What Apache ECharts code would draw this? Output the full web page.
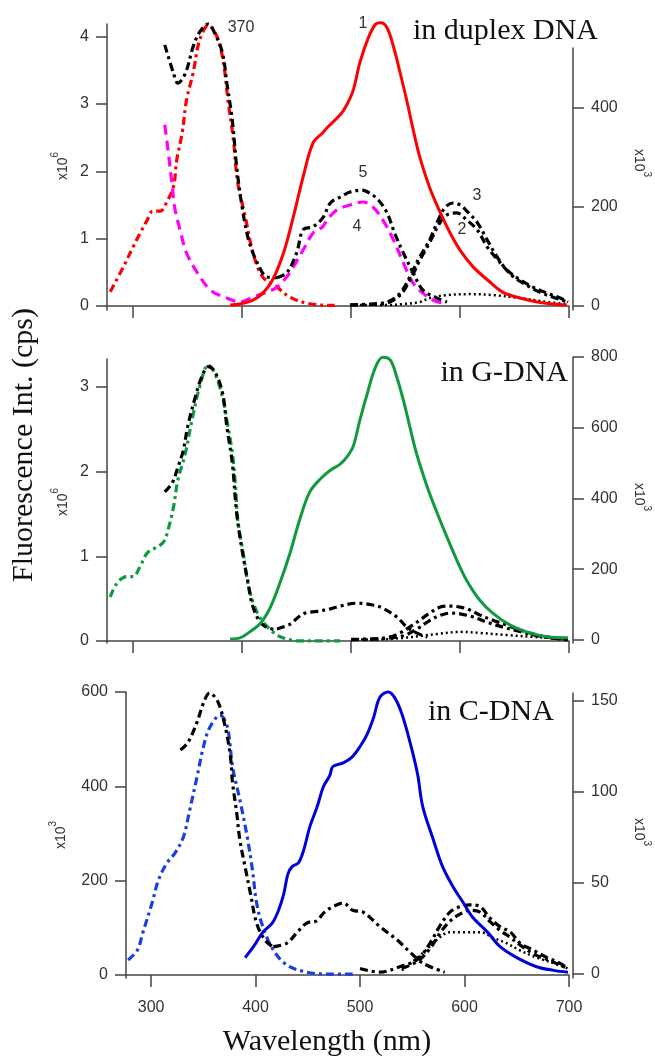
<!DOCTYPE html>
<html>
<head>
<meta charset="utf-8">
<title>Fluorescence spectra in DNA</title>
<script src="https://cdn.jsdelivr.net/npm/echarts@6/dist/echarts.min.js"></script>
<style>
  html, body { margin: 0; padding: 0; background: #fff; }
  #chart { width: 655px; height: 1056px; }
</style>
</head>
<body>
<div id="chart"></div>
<script>
// wavelengths in nm; left axes x10^6 (top, middle) / x10^3 (bottom); right axes x10^3

// ---- in duplex DNA ----
const dupRedExWl = [279, 291, 300, 307, 313, 318, 325, 331, 337, 340, 345, 349, 355, 361, 369, 377, 383, 387, 392, 396, 403, 410, 419, 432, 444, 460, 480, 485];
const dupRedEx   = [0.21, 0.58, 0.88, 1.10, 1.28, 1.41, 1.41, 1.55, 1.77, 2.17, 2.57, 3.06, 3.46, 3.95, 4.17, 4.0, 3.6, 3.06, 2.47, 1.83, 1.32, 0.79, 0.43, 0.28, 0.13, 0.04, 0.01, 0.01];
const dupBlkExWl = [329, 337, 341, 348, 355, 361, 369, 375, 382, 386, 391, 395, 400, 406, 414, 423, 432];
const dupBlkEx   = [3.88, 3.46, 3.31, 3.46, 3.85, 4.07, 4.19, 4.05, 3.76, 3.31, 2.76, 2.07, 1.47, 0.98, 0.64, 0.43, 0.42];
const dup1Wl = [389, 398, 410, 419, 428, 438, 447, 456, 465, 474, 478, 490, 496, 502, 508, 515, 522, 527, 533, 539, 545, 551, 557, 563, 572, 582, 591, 600, 612, 625, 639, 655, 671, 685, 698];
const dup1   = [2, 4, 12, 26, 53, 107, 180, 261, 329, 350, 360, 386, 406, 436, 491, 537, 568, 572, 562, 523, 471, 416, 356, 301, 240, 188, 147, 113, 79, 53, 28, 16, 8, 4, 2];
const dup4Wl = [329, 332, 336, 338, 343, 349, 359, 371, 386, 398, 410, 423, 432, 441, 447, 456, 465, 474, 478, 487, 499, 511, 520, 529, 539, 548, 557, 566, 575, 584];
const dup4   = [366, 315, 240, 200, 154, 107, 67, 32, 16, 8, 18, 28, 38, 59, 79, 113, 147, 160, 174, 194, 204, 210, 200, 174, 133, 87, 46, 26, 12, 6];
const dup5Wl = [432, 441, 450, 456, 465, 474, 481, 490, 499, 510, 517, 525, 533, 540, 548, 557, 566, 579, 588];
const dup5   = [57, 67, 107, 154, 160, 178, 208, 220, 230, 234, 228, 214, 188, 147, 107, 67, 32, 16, 8];
const dup3Wl = [499, 517, 533, 545, 554, 563, 572, 580, 586, 593, 600, 607, 616, 625, 634, 643, 655, 667, 680, 692, 699];
const dup3   = [2, 4, 8, 26, 59, 99, 133, 174, 198, 208, 204, 190, 168, 133, 99, 73, 53, 38, 26, 16, 8];
const dup2Wl = [499, 517, 533, 545, 554, 563, 572, 582, 588, 597, 606, 616, 625, 637, 649, 661, 673, 685, 699];
const dup2   = [2, 3, 6, 22, 52, 92, 128, 170, 184, 188, 174, 153, 119, 87, 59, 42, 28, 18, 8];
const dupDotWl = [499, 533, 548, 563, 572, 588, 609, 630, 655, 680, 698];
const dupDot   = [2, 2, 4, 8, 16, 22, 24, 22, 16, 8, 4];

// ---- in G-DNA ----
const gGreenExWl = [279, 285, 294, 300, 306, 313, 322, 328, 332, 337, 341, 348, 354, 361, 369, 375, 382, 386, 391, 394, 396, 401, 406, 414, 423, 435, 453, 474, 490];
const gGreenEx   = [0.52, 0.68, 0.76, 0.76, 0.87, 1.04, 1.11, 1.17, 1.31, 1.58, 1.90, 2.22, 2.61, 3.0, 3.26, 3.16, 2.88, 2.61, 2.22, 1.82, 1.43, 1.04, 0.64, 0.33, 0.17, 0.05, 0.0, 0.0, 0.0];
const gBlkExWl = [329, 336, 341, 346, 350, 357, 363, 369, 375, 382, 386, 391, 395, 400, 405, 410, 419, 432];
const gBlkEx   = [1.76, 1.87, 2.05, 2.25, 2.53, 2.88, 3.12, 3.24, 3.18, 2.93, 2.53, 2.10, 1.51, 1.07, 0.72, 0.40, 0.19, 0.13];
const gGreenWl = [389, 398, 407, 417, 426, 435, 444, 453, 462, 472, 481, 490, 496, 502, 508, 515, 522, 529, 536, 542, 548, 554, 560, 570, 579, 588, 597, 606, 618, 630, 646, 661, 680, 699];
const gGreen   = [3, 6, 23, 48, 93, 164, 246, 342, 418, 456, 480, 497, 517, 548, 621, 698, 768, 799, 791, 743, 678, 602, 528, 432, 359, 291, 226, 169, 113, 76, 42, 23, 9, 6];
const g5Wl = [432, 444, 456, 469, 481, 490, 505, 520, 529, 542, 551, 560, 570];
const g5   = [31, 45, 74, 81, 88, 96, 104, 99, 90, 65, 37, 20, 8];
const g3Wl = [500, 520, 535, 545, 554, 563, 572, 582, 591, 600, 609, 618, 630, 643, 655, 671, 685, 699];
const g3   = [2, 3, 8, 20, 37, 56, 76, 93, 96, 93, 85, 71, 56, 42, 28, 14, 6, 0];
const g2Wl = [500, 530, 548, 560, 572, 582, 591, 600, 612, 625, 640, 655, 671, 685, 699];
const g2   = [1, 4, 12, 30, 55, 70, 76, 74, 65, 50, 36, 24, 12, 5, 1];
const gDotWl = [500, 530, 548, 563, 579, 600, 618, 643, 671, 698];
const gDot   = [1, 2, 6, 11, 17, 23, 20, 14, 8, 3];

// ---- in C-DNA ----
const cBlueExWl = [278, 287, 292, 301, 307, 315, 323, 331, 337, 344, 350, 356, 366, 373, 378, 385, 392, 397, 401, 407, 417, 430, 449, 468, 493];
const cBlueEx   = [32, 53, 89, 153, 201, 237, 259, 293, 350, 420, 483, 524, 551, 526, 441, 371, 293, 223, 153, 102, 53, 21, 6, 2, 2];
const cBlkExWl = [328, 335, 344, 350, 356, 364, 371, 376, 378, 382, 385, 390, 395, 401, 409, 417];
const cBlkEx   = [477, 492, 536, 576, 598, 579, 526, 462, 407, 343, 286, 229, 174, 110, 74, 59];
const cBlueWl = [390, 398, 407, 416, 422, 427, 431, 435, 441, 446, 452, 459, 465, 471, 474, 484, 492, 500, 507, 513, 519, 527, 533, 540, 548, 555, 560, 570, 579, 589, 599, 608, 622, 634, 650, 669, 685, 699];
const cBlue   = [9, 15, 23, 28, 35, 44, 55, 59, 61, 68, 81, 92, 103, 109, 114, 116, 119, 125, 132, 141, 152, 155, 152, 143, 127, 110, 92, 74, 59, 48, 39, 31, 23, 15, 9, 4, 2, 1];
const c5Wl = [417, 430, 440, 449, 458, 466, 474, 484, 493, 503, 519, 535, 546, 560, 581];
const c5   = [15, 17, 23, 28, 29, 34, 37, 39, 35, 34, 26, 19, 13, 6, 1];
const c3Wl = [500, 519, 538, 555, 567, 576, 586, 596, 605, 615, 624, 634, 644, 653, 666, 679, 691, 699];
const c3   = [3, 1, 4, 8, 17, 26, 34, 37, 38, 37, 31, 26, 23, 17, 13, 9, 6, 3];
const c2Wl = [540, 555, 567, 576, 586, 596, 605, 615, 624, 634, 644, 653, 666, 679, 691, 699];
const c2   = [3, 7, 14, 22, 29, 33, 35, 34, 29, 24, 20, 16, 11, 8, 5, 3];
const cDotWl = [540, 561, 574, 586, 599, 615, 627, 640, 653, 669, 685, 699];
const cDot   = [2, 12, 19, 23, 23, 23, 20, 17, 13, 9, 6, 3];

const xTicks = [300, 400, 500, 600, 700];

const DASHDOT = [8, 4, 3, 4];
const LONGDASH = [10, 6];
const DOT = [2, 3];
const AXIS = '#444';
const SANS = 'Liberation Sans';
const SERIF = 'Liberation Serif';

function pts(wl, v) { return wl.map((w, i) => [w, v[i]]); }

// panel 0..2, side 'L'|'R'
function curve(panel, side, wl, v, color, dash, width) {
    const idx = panel * 2 + (side === 'R' ? 1 : 0);
    return {
        type: 'line', xAxisIndex: idx, yAxisIndex: idx,
        data: pts(wl, v),
        showSymbol: false, symbol: 'none',
        smooth: 0.35,
        clip: false, silent: true,
        lineStyle: { color: color, width: width || 3.2, type: dash || 'solid' }
    };
}

function xAx(idx, show, labels) {
    return {
        type: 'value', gridIndex: idx, min: 276, max: 700, show: show,
        axisLine: { show: true, lineStyle: { color: AXIS, width: 1.5 } },
        axisTick: { show: true, length: 12, customValues: xTicks, lineStyle: { color: AXIS, width: 1.5 } },
        axisLabel: { show: labels, customValues: xTicks, margin: 22, color: '#333', fontSize: 16, fontFamily: SANS },
        splitLine: { show: false }
    };
}

function yAx(idx, pos, min, max, ticks) {
    return {
        type: 'value', gridIndex: idx, position: pos, offset: pos === 'right' ? 4 : 0,
        min: min, max: max,
        axisLine: { show: true, lineStyle: { color: AXIS, width: 1.5 } },
        axisTick: { show: true, length: 11, customValues: ticks, lineStyle: { color: AXIS, width: 1.5 } },
        axisLabel: { customValues: ticks, margin: 18, color: '#333', fontSize: 16, fontFamily: SANS },
        splitLine: { show: false }
    };
}

function txt(x, y, s, opts) {
    return {
        type: 'text', x: x, y: y, rotation: opts.rot || 0, silent: true,
        style: {
            text: s, fill: opts.color || '#111', fontSize: opts.size || 16,
            fontFamily: opts.font || SANS,
            align: opts.align || 'center', verticalAlign: 'middle'
        }
    };
}

// "x10" with a raised exponent
function scale(x, y, exp, rot) {
    return {
        type: 'text', x: x, y: y, rotation: rot, silent: true,
        style: {
            text: '{b|x10}{s|' + exp + '}',
            align: 'center', verticalAlign: 'middle',
            rich: {
                b: { fontSize: 14, fontFamily: SANS, fill: '#333', lineHeight: 20, verticalAlign: 'bottom' },
                s: { fontSize: 10, fontFamily: SANS, fill: '#333', lineHeight: 10, verticalAlign: 'top' }
            }
        }
    };
}

const chart = echarts.init(document.getElementById('chart'));
chart.setOption({
    animation: false,
    backgroundColor: '#fff',
    grid: [
        { left: 107, right: 86, top: 24, bottom: 746 },
        { left: 107, right: 86, top: 48, bottom: 746 },
        { left: 107, right: 86, top: 359, bottom: 413 },
        { left: 107, right: 86, top: 357, bottom: 413 },
        { left: 126, right: 86, top: 692, bottom: 78 },
        { left: 126, right: 86, top: 693, bottom: 78 }
    ],
    xAxis: [
        xAx(0, true, false), xAx(1, false, false),
        xAx(2, true, false), xAx(3, false, false),
        xAx(4, true, true), xAx(5, false, false)
    ],
    yAxis: [
        yAx(0, 'left', -0.0595, 4.19, [0, 1, 2, 3, 4]),
        yAx(1, 'right', -8.1, 521, [0, 200, 400]),
        yAx(2, 'left', -0.024, 3.33, [0, 1, 2, 3]),
        yAx(3, 'right', -8.5, 800, [0, 200, 400, 600, 800]),
        yAx(4, 'left', -6.4, 600, [0, 200, 400, 600]),
        yAx(5, 'right', -2.2, 154.4, [0, 50, 100, 150])
    ],
    series: [
        // duplex DNA
        curve(0, 'L', dupRedExWl, dupRedEx, '#ff0000', DASHDOT),
        curve(0, 'R', dup4Wl, dup4, '#ff00ff', LONGDASH),
        curve(0, 'L', dupBlkExWl, dupBlkEx, '#000', DASHDOT),
        curve(0, 'R', dup5Wl, dup5, '#000', DASHDOT),
        curve(0, 'R', dupDotWl, dupDot, '#000', DOT, 2.5),
        curve(0, 'R', dup2Wl, dup2, '#000', DASHDOT),
        curve(0, 'R', dup3Wl, dup3, '#000', DASHDOT),
        curve(0, 'R', dup1Wl, dup1, '#ff0000', 'solid', 3),
        // G-DNA
        curve(1, 'L', gGreenExWl, gGreenEx, '#109a40', DASHDOT),
        curve(1, 'L', gBlkExWl, gBlkEx, '#000', DASHDOT),
        curve(1, 'R', g5Wl, g5, '#000', DASHDOT),
        curve(1, 'R', gDotWl, gDot, '#000', DOT, 2.5),
        curve(1, 'R', g2Wl, g2, '#000', DASHDOT),
        curve(1, 'R', g3Wl, g3, '#000', DASHDOT),
        curve(1, 'R', gGreenWl, gGreen, '#109a40', 'solid', 3),
        // C-DNA
        curve(2, 'L', cBlueExWl, cBlueEx, '#1a3fe0', DASHDOT),
        curve(2, 'L', cBlkExWl, cBlkEx, '#000', DASHDOT),
        curve(2, 'R', c5Wl, c5, '#000', DASHDOT),
        curve(2, 'R', cDotWl, cDot, '#000', DOT, 2.5),
        curve(2, 'R', c2Wl, c2, '#000', DASHDOT),
        curve(2, 'R', c3Wl, c3, '#000', DASHDOT),
        curve(2, 'R', cBlueWl, cBlue, '#0000d8', 'solid', 3)
    ],
    graphic: [
        txt(24, 445, 'Fluorescence Int. (cps)', { font: SERIF, size: 30, rot: Math.PI / 2 }),
        txt(327, 1042, 'Wavelength (nm)', { font: SERIF, size: 30 }),
        txt(413, 31, 'in duplex DNA', { font: SERIF, size: 30, align: 'left' }),
        txt(568, 373, 'in G-DNA', { font: SERIF, size: 30, align: 'right' }),
        txt(428, 712, 'in C-DNA', { font: SERIF, size: 30, align: 'left' }),
        scale(60, 166, '6', Math.PI / 2),
        scale(60, 502, '6', Math.PI / 2),
        scale(58, 835, '3', Math.PI / 2),
        scale(642, 163, '3', -Math.PI / 2),
        scale(642, 497, '3', -Math.PI / 2),
        scale(642, 832, '3', -Math.PI / 2),
        txt(241, 28, '370', { size: 16, color: '#333' }),
        txt(363, 24, '1', { size: 16, color: '#333' }),
        txt(363, 173, '5', { size: 16, color: '#333' }),
        txt(357, 227, '4', { size: 16, color: '#333' }),
        txt(477, 196, '3', { size: 16, color: '#333' }),
        txt(462, 230, '2', { size: 16, color: '#333' })
    ]
});
</script>
</body>
</html>
